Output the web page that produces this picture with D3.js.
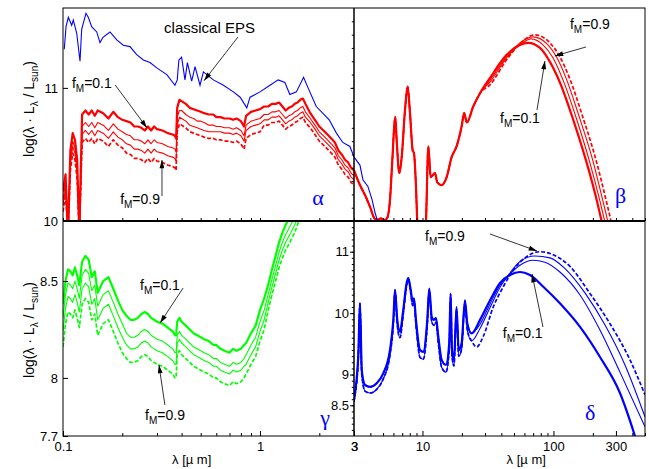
<!DOCTYPE html>
<html>
<head>
<meta charset="utf-8">
<script src="https://cdnjs.cloudflare.com/ajax/libs/d3/7.8.5/d3.min.js"></script>
<style>
  body { margin: 0; background: #fff; }
  svg text { font-family: "Liberation Sans", Arial, Helvetica, sans-serif; fill: #000; }
</style>
</head>
<body>
<svg id="sed" width="649" height="469"></svg>
<script>
// ---- wavelength grid (micron) shared by the UV/optical/NIR spectra ----
const uvGrid = [0.100, 0.103, 0.106, 0.109, 0.112, 0.115, 0.118, 0.121, 0.125, 0.130, 0.135, 0.140, 0.145, 0.150,
  0.16, 0.17, 0.18, 0.19, 0.20, 0.21, 0.22, 0.23, 0.24, 0.25, 0.26, 0.27, 0.28, 0.29, 0.30,
  0.32, 0.34, 0.36, 0.37, 0.375, 0.38, 0.39, 0.40, 0.42, 0.44, 0.46, 0.48, 0.50, 0.52,
  0.55, 0.58, 0.60, 0.63, 0.66, 0.70, 0.73, 0.76, 0.80, 0.83, 0.85, 0.90, 0.95,
  1.00, 1.05, 1.10, 1.15, 1.20, 1.25, 1.30, 1.35, 1.40, 1.45, 1.50, 1.55, 1.60, 1.65, 1.70,
  1.80, 1.90, 2.00, 2.10, 2.20, 2.30, 2.40, 2.50, 2.60, 2.70, 2.80, 2.90, 3.00];

// mass fractions of the four models (thick, thin, thin, dashed)
const fractions = [0.1, 0.3, 0.6, 0.9];

// alpha: log(lambda L_lambda / L_sun), one array per f_M
const alphaF01 = [10.22, 10.35, 9.90, 10.53, 10.66, 10.61, 10.46, 9.90,
  10.80, 10.83, 10.80, 10.83, 10.79, 10.83, 10.81, 10.77, 10.82, 10.78, 10.76,
  10.75, 10.74, 10.71, 10.71, 10.70, 10.68, 10.71, 10.68, 10.71, 10.69, 10.68, 10.66, 10.65, 10.64, 10.62,
  10.85, 10.91, 10.90, 10.88, 10.85, 10.84, 10.83, 10.82, 10.81, 10.80, 10.80,
  10.78, 10.78, 10.77, 10.77, 10.76, 10.77, 10.75, 10.71, 10.79, 10.82, 10.83, 10.84,
  10.86, 10.86, 10.88, 10.88, 10.89, 10.86, 10.83, 10.85, 10.86, 10.88, 10.89, 10.91, 10.92, 10.88,
  10.81, 10.76, 10.71, 10.68, 10.65, 10.62, 10.59, 10.53, 10.50, 10.46, 10.44, 10.40, 10.38];
const alphaF03 = [10.16, 10.29, 9.90, 10.47, 10.60, 10.55, 10.40, 9.90,
  10.71, 10.74, 10.71, 10.74, 10.70, 10.74, 10.72, 10.68, 10.73, 10.69, 10.67,
  10.65, 10.64, 10.61, 10.61, 10.60, 10.58, 10.61, 10.58, 10.61, 10.59, 10.58, 10.56, 10.55, 10.54, 10.52,
  10.78, 10.83, 10.83, 10.80, 10.78, 10.77, 10.75, 10.75, 10.74, 10.72, 10.72,
  10.71, 10.71, 10.70, 10.70, 10.69, 10.70, 10.68, 10.64, 10.72, 10.75, 10.76, 10.77,
  10.80, 10.80, 10.82, 10.82, 10.83, 10.80, 10.77, 10.79, 10.80, 10.82, 10.83, 10.85, 10.86, 10.82,
  10.77, 10.72, 10.67, 10.64, 10.61, 10.58, 10.55, 10.49, 10.46, 10.42, 10.40, 10.36, 10.34];
const alphaF06 = [10.12, 10.25, 9.90, 10.43, 10.56, 10.51, 10.36, 9.90,
  10.65, 10.68, 10.65, 10.68, 10.64, 10.68, 10.66, 10.62, 10.67, 10.63, 10.61,
  10.58, 10.57, 10.54, 10.54, 10.53, 10.51, 10.54, 10.51, 10.54, 10.52, 10.51, 10.49, 10.48, 10.47, 10.45,
  10.72, 10.78, 10.77, 10.75, 10.72, 10.71, 10.70, 10.69, 10.68, 10.67, 10.67,
  10.67, 10.67, 10.66, 10.66, 10.65, 10.66, 10.64, 10.60, 10.68, 10.71, 10.72, 10.73,
  10.76, 10.76, 10.78, 10.78, 10.79, 10.76, 10.73, 10.75, 10.76, 10.78, 10.79, 10.81, 10.82, 10.78,
  10.74, 10.69, 10.64, 10.61, 10.58, 10.55, 10.52, 10.46, 10.43, 10.39, 10.37, 10.33, 10.31];
const alphaF09 = [10.07, 10.20, 9.90, 10.38, 10.51, 10.46, 10.31, 9.90,
  10.59, 10.62, 10.59, 10.62, 10.58, 10.62, 10.60, 10.56, 10.61, 10.57, 10.55,
  10.51, 10.50, 10.47, 10.47, 10.46, 10.44, 10.47, 10.44, 10.47, 10.45, 10.44, 10.42, 10.41, 10.40, 10.38,
  10.67, 10.73, 10.72, 10.70, 10.67, 10.66, 10.65, 10.64, 10.63, 10.62, 10.62,
  10.61, 10.61, 10.60, 10.60, 10.59, 10.60, 10.58, 10.54, 10.62, 10.65, 10.66, 10.67,
  10.72, 10.72, 10.74, 10.74, 10.75, 10.72, 10.69, 10.71, 10.72, 10.74, 10.75, 10.77, 10.78, 10.74,
  10.70, 10.65, 10.60, 10.57, 10.54, 10.51, 10.48, 10.42, 10.39, 10.35, 10.33, 10.29, 10.27];

// classical EPS spectrum (blue)
const epsWave = [0.1015, 0.1036, 0.1064, 0.1107, 0.1128, 0.1174, 0.1220, 0.1244, 0.1308, 0.1344,
  0.1398, 0.1483, 0.1541, 0.1596, 0.1732, 0.1874, 0.2023, 0.2188, 0.2366, 0.2558,
  0.2765, 0.2992, 0.3364, 0.3700, 0.3800, 0.3875, 0.4000, 0.4160, 0.4280, 0.4500,
  0.4680, 0.4960, 0.5160, 0.5800, 0.6520, 0.7330, 0.7930, 0.8570, 0.8900, 1.000,
  1.124, 1.237, 1.338, 1.417, 1.530, 1.664, 1.754, 1.930, 2.245, 2.443,
  2.630, 2.860, 3.000];
const epsLum = [11.29, 11.46, 11.53, 11.47, 11.51, 11.41, 11.20, 11.44, 11.56, 11.53,
  11.46, 11.42, 11.34, 11.38, 11.42, 11.36, 11.32, 11.31, 11.25, 11.21,
  11.19, 11.15, 11.10, 11.02, 11.06, 11.21, 11.23, 11.06, 11.19, 11.05,
  11.16, 11.02, 11.12, 11.06, 11.02, 10.97, 10.93, 10.85, 10.93, 10.97,
  11.02, 11.06, 11.04, 10.95, 10.97, 11.08, 11.00, 10.86, 10.76, 10.66,
  10.59, 10.56, 10.48];
const epsWaveIR = [3.0, 3.33, 3.51, 3.83, 4.12, 4.35, 4.6];
const epsLumIR = [10.48, 10.42, 10.31, 10.26, 10.16, 10.06, 9.98];

// beta: mid-IR part common to all models, then the far-IR bump per f_M
const betaPahWave = [3.0, 3.33, 3.64, 3.98, 4.34, 4.58, 4.82, 5.08, 5.36, 5.65, 5.85, 6.2, 6.35, 6.65, 6.94,
  7.35, 7.7, 8.03, 8.42, 8.61, 8.92, 9.16, 9.92, 10.6, 11.08, 11.55, 12.46, 12.97, 14.0, 15.3,
  16.7, 18.2, 19.9, 20.8, 21.8, 24.4, 27.5];
const betaPahLum = [10.38, 10.27, 10.195, 10.105, 10.015, 10.01, 10.02, 10.005, 10.02, 10.16, 10.41, 10.78, 10.61, 10.36, 10.48,
  10.83, 11.01, 10.81, 10.53, 10.51, 10.26, 9.97, 9.8, 9.97, 10.56, 10.33, 10.36, 10.29, 10.27, 10.33,
  10.48, 10.56, 10.71, 10.81, 10.74, 10.86, 10.96];
const betaFirWave01 = [32.8, 43.9, 55.5, 64.2, 78.9, 94.0, 112, 141.6, 179, 213.6, 233, 260];
const betaFirLum01 = [11.075, 11.248, 11.323, 11.338, 11.30, 11.195, 11.04, 10.76, 10.44, 10.16, 10.0, 9.8];
const betaFirWave03 = [32.8, 43.9, 55.5, 67.3, 83.2, 99.1, 118.2, 149.3, 188.9, 225.3, 245.9, 270];
const betaFirLum03 = [11.06, 11.233, 11.323, 11.368, 11.323, 11.226, 11.06, 10.774, 10.444, 10.158, 10.0, 9.8];
const betaFirWave06 = [32.8, 43.9, 55.5, 69.7, 89.2, 106.3, 124.6, 157.4, 199.2, 237.5, 259.3, 285];
const betaFirLum06 = [11.045, 11.226, 11.338, 11.383, 11.331, 11.226, 11.075, 10.782, 10.459, 10.158, 10.0, 9.8];
const betaFirWave09 = [32.8, 43.9, 55.5, 72.2, 94.0, 112, 132.5, 166.5, 211.2, 252, 274.7, 300];
const betaFirLum09 = [11.023, 11.211, 11.331, 11.398, 11.338, 11.233, 11.075, 10.789, 10.459, 10.158, 10.0, 9.8];

// gamma: same UV grid, up to 1.6 micron
const gammaF01 = [8.38, 8.50, 8.56, 8.55, 8.53, 8.57, 8.53, 8.48,
  8.60, 8.63, 8.61, 8.52, 8.55, 8.44, 8.50, 8.52, 8.46, 8.40, 8.35,
  8.32, 8.30, 8.30, 8.31, 8.33, 8.34, 8.33, 8.31, 8.30, 8.29, 8.28, 8.26, 8.24, 8.22, 8.22,
  8.29, 8.31, 8.29, 8.27, 8.25, 8.23, 8.22, 8.21, 8.20, 8.19, 8.17, 8.17, 8.15, 8.14, 8.13, 8.15, 8.14, 8.15, 8.17,
  8.18, 8.23, 8.27, 8.35, 8.41, 8.48, 8.56, 8.63, 8.70, 8.75, 8.79, 8.82, 8.85, 8.88, 8.92, 8.96];
const gammaF03 = [8.31, 8.43, 8.49, 8.48, 8.46, 8.50, 8.46, 8.41,
  8.53, 8.56, 8.54, 8.45, 8.48, 8.37, 8.43, 8.45, 8.39, 8.33, 8.28,
  8.23, 8.21, 8.21, 8.22, 8.24, 8.25, 8.24, 8.22, 8.21, 8.20, 8.19, 8.17, 8.15, 8.13, 8.13,
  8.22, 8.24, 8.22, 8.20, 8.18, 8.16, 8.15, 8.14, 8.13, 8.12, 8.10, 8.10, 8.08, 8.07, 8.06, 8.08, 8.07, 8.08, 8.10,
  8.12, 8.17, 8.21, 8.29, 8.35, 8.43, 8.51, 8.58, 8.65, 8.70, 8.74, 8.77, 8.80, 8.83, 8.87, 8.91];
const gammaF06 = [8.24, 8.36, 8.42, 8.41, 8.39, 8.43, 8.39, 8.34,
  8.46, 8.49, 8.47, 8.38, 8.41, 8.30, 8.36, 8.38, 8.32, 8.26, 8.21,
  8.17, 8.15, 8.15, 8.16, 8.18, 8.19, 8.18, 8.16, 8.15, 8.14, 8.13, 8.11, 8.09, 8.07, 8.07,
  8.18, 8.20, 8.18, 8.16, 8.14, 8.12, 8.11, 8.10, 8.09, 8.08, 8.06, 8.06, 8.04, 8.03, 8.02, 8.04, 8.03, 8.04, 8.06,
  8.07, 8.12, 8.16, 8.24, 8.30, 8.39, 8.47, 8.54, 8.61, 8.66, 8.70, 8.73, 8.76, 8.79, 8.83, 8.87];
const gammaF09 = [8.16, 8.28, 8.34, 8.33, 8.31, 8.35, 8.31, 8.26,
  8.38, 8.41, 8.39, 8.30, 8.33, 8.22, 8.28, 8.30, 8.24, 8.18, 8.13,
  8.10, 8.08, 8.08, 8.09, 8.11, 8.12, 8.11, 8.09, 8.08, 8.07, 8.06, 8.04, 8.02, 8.00, 8.00,
  8.12, 8.14, 8.12, 8.10, 8.08, 8.06, 8.05, 8.04, 8.03, 8.02, 8.00, 8.00, 7.98, 7.97, 7.96, 7.98, 7.97, 7.98, 8.00,
  8.02, 8.07, 8.11, 8.19, 8.25, 8.35, 8.43, 8.50, 8.57, 8.62, 8.66, 8.69, 8.72, 8.75, 8.79, 8.83];

// delta: PAH region (two traces), then far-IR bump per f_M
const deltaPahWave = [3.0, 3.05, 3.24, 3.33, 3.44, 3.64, 3.98, 4.47, 5.02, 5.65,
  5.99, 6.17, 6.42, 6.73, 7.13, 7.57, 7.79, 8.13, 8.42, 8.61,
  8.92, 9.57, 10.14, 10.88, 11.27, 11.76, 12.24, 12.68, 13.2, 14.0,
  15.1, 16.0, 16.4, 16.8, 17.4, 18.2, 18.9, 19.9, 21.1, 22.0, 23.7];
const deltaPahUpper = [8.60, 8.70, 9.35, 10.16, 9.07, 8.83, 8.80, 8.86, 9.02, 9.40,
  9.89, 10.38, 9.89, 9.70, 10.05, 10.49, 10.57, 10.38, 10.19, 10.24,
  9.89, 9.40, 9.37, 9.89, 10.40, 9.94, 9.89, 9.92, 9.62, 9.24,
  9.16, 9.51, 10.32, 9.40, 9.24, 10.10, 9.40, 9.51, 10.21, 9.83, 9.67];
const deltaPahLower = [8.56, 8.65, 9.30, 10.16, 9.00, 8.73, 8.70, 8.76, 8.93, 9.32,
  9.82, 10.36, 9.80, 9.60, 9.98, 10.45, 10.55, 10.33, 10.12, 10.18,
  9.80, 9.28, 9.25, 9.80, 10.37, 9.86, 9.80, 9.85, 9.52, 9.12,
  9.04, 9.40, 10.28, 9.30, 9.14, 10.05, 9.30, 9.42, 10.15, 9.72, 9.55];
const deltaFirWave01 = [27.5, 32.8, 39.1, 46.5, 55.5, 66.2, 83.6, 112, 159, 226, 322, 419, 457];
const deltaFirLum01 = [9.89, 10.21, 10.49, 10.62, 10.67, 10.62, 10.43, 10.16, 9.78, 9.29, 8.70, 8.0, 7.74];
const deltaFirWave03 = [27.5, 32.8, 39.1, 46.5, 55.5, 69.7, 86.1, 112, 159, 226, 322, 500];
const deltaFirLum03 = [9.82, 10.15, 10.46, 10.64, 10.78, 10.86, 10.83, 10.67, 10.30, 9.73, 9.04, 8.15];
const deltaFirWave06 = [27.5, 32.8, 39.1, 46.5, 55.5, 72.2, 94.0, 122, 174, 247, 351, 500];
const deltaFirLum06 = [9.75, 10.09, 10.42, 10.65, 10.84, 10.93, 10.90, 10.73, 10.33, 9.81, 9.16, 8.31];
const deltaFirWave09 = [25.9, 29.1, 34.7, 41.4, 49.3, 62.4, 78.9, 99.6, 133.7, 190, 270, 384, 500];
const deltaFirLum09 = [9.45, 9.62, 10.10, 10.43, 10.70, 10.92, 11.00, 10.95, 10.76, 10.32, 9.83, 9.24, 8.67];

// tick values
const shortTicks = [0.1, 1, 3];
const shortMinor = [0.2, 0.3, 0.4, 0.5, 0.6, 0.7, 0.8, 0.9, 2];
const longTicks = [3, 10, 100, 300];
const longMinor = [4, 5, 6, 7, 8, 9, 20, 30, 40, 50, 60, 70, 80, 90, 200, 400, 500];
const alphaTicks = [10, 11];
const gammaTicks = [7.7, 8, 8.5];
const deltaTicks = [8.5, 9, 10, 11];

// ---- layout ----
const svg = d3.select("#sed");
const box = { left: 63, mid: 354, right: 645, top: 8, midY: 221, bottom: 436 };

const xShort = d3.scaleLog().domain([0.1, 3]).range([box.left, box.mid]);
const xLong = d3.scaleLog().domain([3, 500]).range([box.mid, box.right]);
const yTop = d3.scaleLinear().domain([10, 11.6]).range([box.midY, box.top]);
const yGamma = d3.scaleLinear().domain([7.7, 8.81]).range([box.bottom, box.midY]);
const yDelta = d3.scaleLinear().domain([8, 11.5]).range([box.bottom, box.midY]);

const styles = [
  { width: 2.2 },
  { width: 1.1 },
  { width: 1.1 },
  { width: 1.7, dash: "4,2" }
];

const zip = (w, v) => v.map((d, i) => [w[i], d]);

const alphaSeries = [alphaF01, alphaF03, alphaF06, alphaF09].map(v => zip(uvGrid, v));
const gammaSeries = [gammaF01, gammaF03, gammaF06, gammaF09].map(v => zip(uvGrid, v));
const betaPah = zip(betaPahWave, betaPahLum);
const betaSeries = [
  betaPah.concat(zip(betaFirWave01, betaFirLum01)),
  betaPah.concat(zip(betaFirWave03, betaFirLum03)),
  betaPah.concat(zip(betaFirWave06, betaFirLum06)),
  betaPah.concat(zip(betaFirWave09, betaFirLum09))
];
const deltaSeries = [
  zip(deltaPahWave, deltaPahUpper).concat(zip(deltaFirWave01, deltaFirLum01)),
  zip(deltaPahWave, deltaPahUpper).concat(zip(deltaFirWave03, deltaFirLum03)),
  zip(deltaPahWave, deltaPahLower).concat(zip(deltaFirWave06, deltaFirLum06)),
  zip(deltaPahWave, deltaPahLower).concat(zip(deltaFirWave09, deltaFirLum09))
];

// annotations (data coordinates of each panel)
const panels = [
  { id: "alpha", x: xShort, y: yTop, color: "#ff0000", series: alphaSeries, curve: d3.curveLinear,
    letter: "α", letterAt: [1.84, 10.12],
    notes: [
      { text: "classical EPS", at: [0.326, 11.412], from: [0.773, 11.382], to: [0.520, 11.054] },
      { fm: "0.1", at: [0.111, 11.0], from: [0.184, 11.022], to: [0.267, 10.699] },
      { fm: "0.9", at: [0.195, 10.128], from: [0.318, 10.188], to: [0.318, 10.458] }
    ] },
  { id: "beta", x: xLong, y: yTop, color: "#ff0000", series: betaSeries, curve: d3.curveMonotoneX,
    letter: "β", letterAt: [295, 10.135],
    notes: [
      { fm: "0.9", at: [133.7, 11.443], from: [177, 11.307], to: [102.5, 11.240] },
      { fm: "0.1", at: [39.1, 10.736], from: [74.9, 10.834], to: [86.1, 11.202] }
    ] },
  { id: "gamma", x: xShort, y: yGamma, color: "#00ff00", series: gammaSeries, curve: d3.curveLinear,
    letter: "γ", letterAt: [2.02, 7.757],
    notes: [
      { fm: "0.1", at: [0.246, 8.454], from: [0.407, 8.464], to: [0.311, 8.283] },
      { fm: "0.9", at: [0.261, 7.783], from: [0.329, 7.860], to: [0.307, 8.067] }
    ] },
  { id: "delta", x: xLong, y: yDelta, color: "#0000ff", series: deltaSeries, curve: d3.curveMonotoneX,
    letter: "δ", letterAt: [174, 8.26],
    notes: [
      { fm: "0.9", at: [10.45, 11.174], from: [32.8, 11.288], to: [74.9, 11.012] },
      { fm: "0.1", at: [41.0, 9.595], from: [83.2, 9.774], to: [68.6, 10.637] }
    ] }
];

const defs = svg.append("defs");
defs.append("marker")
  .attr("id", "head")
  .attr("viewBox", "0 0 10 6")
  .attr("refX", 10).attr("refY", 3)
  .attr("markerWidth", 9).attr("markerHeight", 5)
  .attr("markerUnits", "userSpaceOnUse")
  .attr("orient", "auto")
  .append("path").attr("d", "M0,0L10,3L0,6Z").attr("fill", "#000");

panels.forEach(p => {
  const [x0, x1] = p.x.range();
  const [y0, y1] = p.y.range();
  defs.append("clipPath").attr("id", "clip-" + p.id)
    .append("rect").attr("x", x0).attr("y", y1).attr("width", x1 - x0).attr("height", y0 - y1);
});

const plot = svg.append("g");

panels.forEach(p => {
  const g = plot.append("g").attr("clip-path", `url(#clip-${p.id})`);
  const line = d3.line().curve(p.curve).x(d => p.x(d[0])).y(d => p.y(d[1]));

  g.selectAll("path.model").data(p.series).join("path")
    .attr("class", "model")
    .attr("d", line)
    .attr("fill", "none")
    .attr("stroke", p.color)
    .attr("stroke-linejoin", "round")
    .attr("stroke-width", (d, i) => styles[i].width)
    .attr("stroke-dasharray", (d, i) => styles[i].dash || null);

  // classical EPS spectrum on the two top panels
  if (p.id === "alpha" || p.id === "beta") {
    const eps = p.id === "alpha" ? zip(epsWave, epsLum) : zip(epsWaveIR, epsLumIR);
    g.append("path").datum(eps)
      .attr("d", d3.line().x(d => p.x(d[0])).y(d => p.y(d[1])))
      .attr("fill", "none").attr("stroke", "#0000ff").attr("stroke-width", 1.1);
  }
});

// ---- axes ----
function styleAxis(g) {
  g.select(".domain").remove();
  g.selectAll("line").attr("stroke", "#000");
  g.attr("font-size", 13).attr("font-family", '"Liberation Sans", Arial, sans-serif');
}
const fmt = d => String(d);

svg.append("g").attr("transform", `translate(0,${box.bottom})`)
  .call(d3.axisBottom(xShort).tickValues(shortTicks).tickSize(-5).tickPadding(6).tickFormat(fmt)).call(styleAxis);
svg.append("g").attr("transform", `translate(0,${box.bottom})`)
  .call(d3.axisBottom(xShort).tickValues(shortMinor).tickSize(-3).tickFormat("")).call(styleAxis);
svg.append("g").attr("transform", `translate(0,${box.bottom})`)
  .call(d3.axisBottom(xLong).tickValues(longTicks).tickSize(-5).tickPadding(6).tickFormat(fmt)).call(styleAxis);
svg.append("g").attr("transform", `translate(0,${box.bottom})`)
  .call(d3.axisBottom(xLong).tickValues(longMinor).tickSize(-3).tickFormat("")).call(styleAxis);

// upper panels share the wavelength ticks but carry no labels
svg.append("g").attr("transform", `translate(0,${box.midY})`)
  .call(d3.axisBottom(xShort).tickValues(shortTicks.concat(shortMinor)).tickSize(-3).tickFormat("")).call(styleAxis);
svg.append("g").attr("transform", `translate(0,${box.midY})`)
  .call(d3.axisBottom(xLong).tickValues(longTicks.concat(longMinor)).tickSize(-3).tickFormat("")).call(styleAxis);

svg.append("g").attr("transform", `translate(${box.left},0)`)
  .call(d3.axisLeft(yTop).tickValues(alphaTicks).tickSize(-5).tickPadding(5).tickFormat(fmt)).call(styleAxis);
svg.append("g").attr("transform", `translate(${box.left},0)`)
  .call(d3.axisLeft(yGamma).tickValues(gammaTicks).tickSize(-5).tickPadding(5).tickFormat(fmt)).call(styleAxis);

svg.append("g").attr("transform", `translate(${box.mid},0)`)
  .call(d3.axisLeft(yTop).tickValues(d3.range(10.1, 11.55, 0.1)).tickSize(2.2).tickFormat("")).call(styleAxis);
svg.append("g").attr("transform", `translate(${box.mid},0)`)
  .call(d3.axisLeft(yTop).tickValues([11]).tickSize(3.5).tickFormat("")).call(styleAxis);
svg.append("g").attr("transform", `translate(${box.mid},0)`)
  .call(d3.axisLeft(yDelta).tickValues(d3.range(8.1, 11.45, 0.1)).tickSize(2.2).tickFormat("")).call(styleAxis);
svg.append("g").attr("transform", `translate(${box.mid},0)`)
  .call(d3.axisLeft(yDelta).tickValues(deltaTicks).tickSize(4).tickPadding(1).tickFormat(fmt)).call(styleAxis);

// ---- frame ----
svg.append("rect")
  .attr("x", box.left).attr("y", box.top)
  .attr("width", box.right - box.left).attr("height", box.bottom - box.top)
  .attr("fill", "none").attr("stroke", "#000").attr("stroke-width", 1);
svg.append("line").attr("x1", box.mid).attr("x2", box.mid).attr("y1", box.top).attr("y2", box.bottom)
  .attr("stroke", "#000").attr("stroke-width", 1.5);
svg.append("line").attr("x1", box.left).attr("x2", box.right).attr("y1", box.midY).attr("y2", box.midY)
  .attr("stroke", "#000").attr("stroke-width", 1.8);

// ---- annotations ----
const notes = svg.append("g");
panels.forEach(p => {
  p.notes.forEach(n => {
    const t = notes.append("text").attr("x", p.x(n.at[0])).attr("y", p.y(n.at[1]));
    if (n.text) {
      t.attr("font-size", 15).text(n.text);
    } else {
      t.attr("font-size", 14);
      t.append("tspan").text("f");
      t.append("tspan").attr("font-size", 10).attr("dy", 4).text("M");
      t.append("tspan").attr("dy", -4).text("=" + n.fm);
    }
    notes.append("line")
      .attr("x1", p.x(n.from[0])).attr("y1", p.y(n.from[1]))
      .attr("x2", p.x(n.to[0])).attr("y2", p.y(n.to[1]))
      .attr("stroke", "#000").attr("stroke-width", 0.8)
      .attr("marker-end", "url(#head)");
  });
  notes.append("text")
    .attr("x", p.x(p.letterAt[0])).attr("y", p.y(p.letterAt[1]))
    .style("font-family", '"Liberation Serif", "Times New Roman", serif')
    .style("fill", "#0000ff")
    .attr("font-size", 22)
    .text(p.letter);
});

// axis titles
function yTitle(cy) {
  const t = svg.append("text")
    .attr("transform", `translate(34,${cy}) rotate(-90)`)
    .attr("text-anchor", "middle")
    .attr("font-size", 14);
  t.append("tspan").text("log(λ · L");
  t.append("tspan").attr("font-size", 10).attr("dy", 4).text("λ");
  t.append("tspan").attr("dy", -4).text(" / L");
  t.append("tspan").attr("font-size", 10).attr("dy", 4).text("sun");
  t.append("tspan").attr("dy", -4).text(")");
}
yTitle(109);
yTitle(330);

[[xShort, 0.45], [xLong, 62]].forEach(([x, at]) => {
  svg.append("text")
    .attr("x", x(at)).attr("y", 464)
    .attr("text-anchor", "middle")
    .attr("font-size", 13)
    .text("λ [µ m]");
});
</script>
</body>
</html>
